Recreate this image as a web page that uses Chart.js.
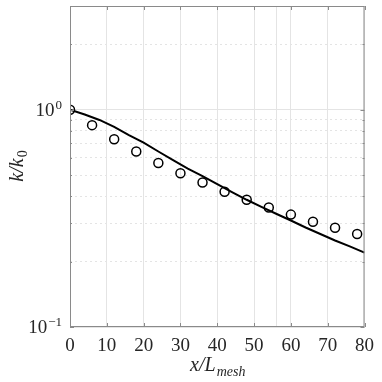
<!DOCTYPE html>
<html>
<head>
<meta charset="utf-8">
<script src="https://cdn.jsdelivr.net/npm/chart.js@4"></script>
<style>
  html, body { margin: 0; padding: 0; background: #fff; }
  #wrap { width: 382px; height: 382px; }
</style>
</head>
<body>
<div id="wrap"><canvas id="decay"></canvas></div>
<script>
// ── DATA ──────────────────────────────────────────────────────────────────────
const expX   = [0, 6, 12, 18, 24, 30, 36, 42, 48, 54, 60, 66, 72, 78];
const expK   = [1.0, 0.849, 0.731, 0.642, 0.568, 0.510, 0.462, 0.419, 0.385, 0.355, 0.329, 0.305, 0.286, 0.268];
const simX   = [0, 4, 8, 12, 16, 20, 24, 28, 32, 36, 40, 44, 48, 52, 56, 60, 64, 68, 72, 76, 80];
const simK   = [1.0, 0.95, 0.897, 0.834, 0.764, 0.705, 0.642, 0.586, 0.535, 0.495, 0.454, 0.418, 0.385, 0.357, 0.332, 0.309, 0.287, 0.268, 0.250, 0.235, 0.220];
const xTicks = [0, 10, 20, 30, 40, 50, 56, 60, 70, 80];
const yTicks = [0.1, 0.2, 0.3, 0.4, 0.5, 0.6, 0.7, 0.8, 0.9, 1, 2, 3];
const yMajor = [0.1, 1];

const SERIF = '"Liberation Serif", "DejaVu Serif", serif';
const INK   = '#262626';
const GRID  = '#e4e4e4';
const FRAME = '#8a8a8a';

// ── FRAME, INWARD TICKS, LATEX-STYLE LABELS ──────────────────────────────────
const decorPlugin = {
  id: 'decor',
  afterDraw(chart) {
    const { ctx, chartArea: a, scales: { x, y } } = chart;
    ctx.save();
    ctx.strokeStyle = FRAME;
    ctx.lineWidth = 1;
    ctx.strokeRect(a.left + 0.5, a.top + 0.5, a.right - a.left - 1, a.bottom - a.top - 1);

    // ticks pointing inward on all four sides
    ctx.beginPath();
    xTicks.filter(v => v % 10 === 0).forEach(v => {
      const px = Math.round(x.getPixelForValue(v)) + 0.5;
      ctx.moveTo(px, a.bottom); ctx.lineTo(px, a.bottom - 4);
      ctx.moveTo(px, a.top);    ctx.lineTo(px, a.top + 4);
    });
    yTicks.forEach(v => {
      const py = Math.round(y.getPixelForValue(v)) + 0.5;
      const len = yMajor.includes(v) ? 4 : 2;
      ctx.moveTo(a.left, py);  ctx.lineTo(a.left + len, py);
      ctx.moveTo(a.right, py); ctx.lineTo(a.right - len, py);
    });
    ctx.stroke();

    // y tick labels 10^0, 10^-1
    ctx.fillStyle = INK;
    ctx.textBaseline = 'alphabetic';
    yMajor.forEach(v => {
      const py = y.getPixelForValue(v);
      const exp = String(Math.round(Math.log10(v))).replace('-', '\u2212');
      ctx.font = `13px ${SERIF}`;
      const ew = ctx.measureText(exp).width;
      ctx.textAlign = 'right';
      ctx.fillText(exp, 62, py - 1);
      ctx.font = `19px ${SERIF}`;
      ctx.fillText('10', 61 - ew, py + 6);
    });

    // x axis title: x/L_mesh
    ctx.textAlign = 'left';
    const main = 'x/L', sub = 'mesh';
    ctx.font = `italic 20px ${SERIF}`;
    const mw = ctx.measureText(main).width;
    ctx.font = `italic 14px ${SERIF}`;
    const sw = ctx.measureText(sub).width;
    const cx = (a.left + a.right) / 2;
    const x0 = cx - (mw + sw) / 2;
    ctx.font = `italic 20px ${SERIF}`;
    ctx.fillText(main, x0, 371);
    ctx.font = `italic 14px ${SERIF}`;
    ctx.fillText(sub, x0 + mw + 1, 376);

    // y axis title: k/k_0 (rotated)
    ctx.translate(23, (a.top + a.bottom) / 2);
    ctx.rotate(-Math.PI / 2);
    const ym = 'k/k', ys = '0';
    ctx.font = `italic 20px ${SERIF}`;
    const ymw = ctx.measureText(ym).width;
    ctx.font = `14px ${SERIF}`;
    const ysw = ctx.measureText(ys).width;
    const y0 = -(ymw + ysw) / 2;
    ctx.font = `italic 20px ${SERIF}`;
    ctx.fillText(ym, y0, 0);
    ctx.font = `14px ${SERIF}`;
    ctx.fillText(ys, y0 + ymw + 1, 4);
    ctx.restore();
  }
};

// ── CHART ─────────────────────────────────────────────────────────────────────
new Chart(document.getElementById('decay'), {
  type: 'scatter',
  data: {
    datasets: [
      {
        label: 'simulation',
        data: simX.map((v, i) => ({ x: v, y: simK[i] })),
        showLine: true,
        borderColor: '#000',
        borderWidth: 2,
        pointRadius: 0,
        tension: 0,
        order: 2
      },
      {
        label: 'experiment',
        data: expX.map((v, i) => ({ x: v, y: expK[i] })),
        showLine: false,
        pointRadius: 4.5,
        pointBorderWidth: 1.5,
        pointBorderColor: '#000',
        pointBackgroundColor: 'rgba(0,0,0,0)',
        order: 1
      }
    ]
  },
  options: {
    responsive: true,
    maintainAspectRatio: false,
    animation: false,
    layout: { padding: { top: 1, right: 9, left: 0, bottom: 0 } },
    plugins: { legend: { display: false }, tooltip: { enabled: false } },
    scales: {
      x: {
        type: 'linear',
        min: 0, max: 80,
        afterBuildTicks: s => { s.ticks = xTicks.map(v => ({ value: v })); },
        afterFit: s => { s.height = 55; },
        grid: { color: GRID, lineWidth: 1, drawTicks: false },
        border: { display: false },
        ticks: {
          autoSkip: false,
          maxRotation: 0,
          padding: 8,
          color: INK,
          font: { family: SERIF, size: 19 },
          callback: v => (v % 10 === 0 ? String(v) : '')
        }
      },
      y: {
        type: 'logarithmic',
        min: 0.1, max: 3,
        afterBuildTicks: s => { s.ticks = yTicks.map(v => ({ value: v })); },
        afterFit: s => { s.width = 70; },
        grid: { color: GRID, lineWidth: 1, drawTicks: false },
        border: {
          display: false,
          dash: c => (c.tick && !yMajor.includes(c.tick.value) ? [2, 3] : [])
        },
        ticks: { display: false }
      }
    }
  },
  plugins: [decorPlugin]
});
</script>
</body>
</html>
